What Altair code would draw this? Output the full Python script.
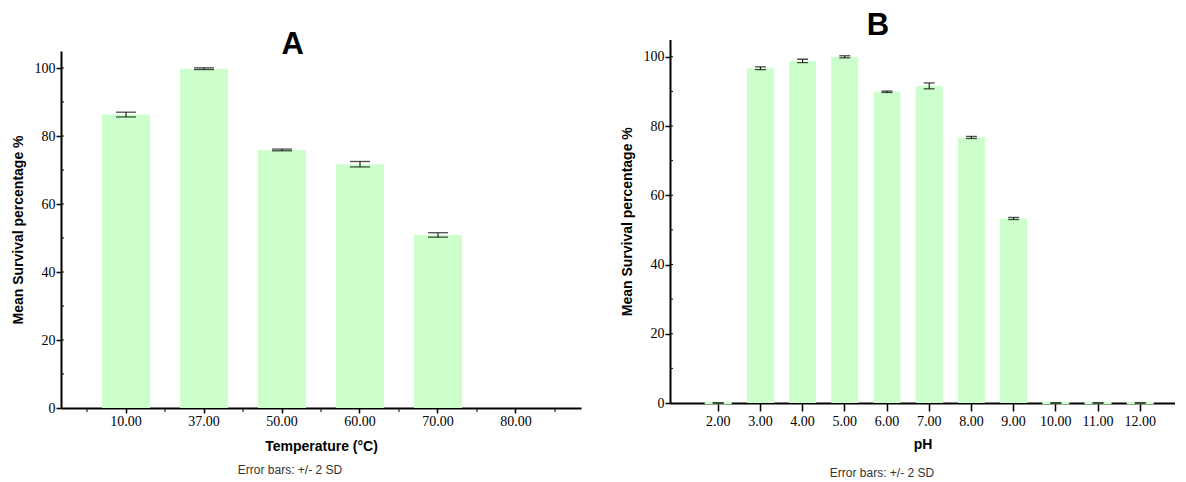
import altair as alt
import pandas as pd

# ---------------- data ----------------
temp_labels = ["10.00", "37.00", "50.00", "60.00", "70.00", "80.00"]
temp_mean = [86.3, 99.8, 75.9, 71.7, 50.9, 0.0]
temp_err = [0.7, 0.25, 0.25, 0.8, 0.65, 0.0]   # +/- 2 SD

ph_labels = ["2.00", "3.00", "4.00", "5.00", "6.00", "7.00", "8.00",
             "9.00", "10.00", "11.00", "12.00"]
ph_mean = [0.0, 96.7, 98.8, 100.0, 89.9, 91.6, 76.7, 53.3, 0.0, 0.0, 0.0]
ph_err = [0.0, 0.4, 0.5, 0.3, 0.2, 0.85, 0.3, 0.3, 0.0, 0.0, 0.0]

panel_titles = ["A", "B"]
x_titles = ["Temperature (°C)", "pH"]
y_title = "Mean Survival percentage %"
footnote = "Error bars: +/- 2 SD"
y_ticks = [0, 20, 40, 60, 80, 100]
y_minor = [10, 20, 30, 40, 50, 60, 70, 80, 90, 100]

BAR = "#ccffcc"


def panel(labels, means, errs, title, xtitle, cfg):
    W, H = cfg["w"], cfg["h"]
    df = pd.DataFrame({
        "cat": labels,
        "mean": means,
        "lo": [m - e for m, e in zip(means, errs)],
        "hi": [m + e for m, e in zip(means, errs)],
    })
    xs = alt.Scale(domain=labels, paddingInner=cfg["pi"], paddingOuter=cfg["po"],
                   align=cfg["align"])
    ys = alt.Scale(domain=[0, 105], nice=False, zero=True, range=cfg["yrange"])
    xaxis = alt.Axis(title=xtitle, labelAngle=0, tickSize=cfg["xtick"],
                     labelPadding=cfg["xlabpad"], titlePadding=cfg["xtitlepad"])
    ymid = (cfg["yrange"][0] + cfg["yrange"][1]) / 2
    yaxis = alt.Axis(title=y_title, values=y_ticks, tickSize=5, labelPadding=1,
                     titleAngle=270, titleBaseline="bottom", titleAlign="center",
                     titleX=-36, titleY=ymid)

    def X(field="cat", **kw):
        return alt.X(f"{field}:N", scale=xs, axis=xaxis, **kw)

    def Y(field):
        return alt.Y(f"{field}:Q", scale=ys, axis=yaxis)

    base = alt.Chart(df)
    layers = []
    spacer = alt.Chart(pd.DataFrame({"s": [0]})).mark_point(
        size=1, opacity=0, filled=True).encode(
        x=alt.value(cfg["spx"]), y=alt.value(cfg["spy"]))
    layers.append(spacer)
    layers.append(base.mark_bar(color=BAR).encode(x=X(), y=Y("mean")))
    if cfg["zero_stroke"]:
        layers.append(base.transform_filter("datum.mean == 0").mark_bar(
            color=BAR, stroke=BAR, strokeWidth=2.5).encode(x=X(), y=Y("mean")))
        errdf = base
    else:
        errdf = base.transform_filter("datum.mean > 0")
    layers.append(errdf.mark_rule(color="black", strokeWidth=1).encode(
        x=X(), y=Y("lo"), y2="hi:Q"))
    layers.append(errdf.mark_tick(color="black", orient="horizontal",
                                  size=cfg["cap"], thickness=1.3).encode(
        x=X(), y=Y("lo")))
    layers.append(errdf.mark_tick(color="black", orient="horizontal",
                                  size=cfg["cap"], thickness=1.3).encode(
        x=X(), y=Y("hi")))
    # minor ticks on y axis (right side of axis line)
    layers.append(alt.Chart(pd.DataFrame({"v": y_minor})).mark_rule(
        color="black", strokeWidth=1).encode(
        y=Y("v"), x=alt.value(0), x2=alt.value(3)))
    if cfg["xminor"]:
        n = len(labels)
        step = W / (n - cfg["pi"] + 2 * cfg["po"])
        half_gap = cfg["pi"] * step / 2
        layers.append(base.mark_rule(color="black", strokeWidth=1,
                                     xOffset=-half_gap).encode(
            x=X(bandPosition=0), y=alt.value(H), y2=alt.value(H + 4)))
        layers.append(base.transform_filter(f"datum.cat == '{labels[-1]}'").mark_rule(
            color="black", strokeWidth=1, xOffset=half_gap).encode(
            x=X(bandPosition=1), y=alt.value(H), y2=alt.value(H + 4)))
    layers.append(alt.Chart(pd.DataFrame({"t": [title]})).mark_text(
        font="Liberation Sans", fontSize=31, fontWeight="bold", color="black",
        align="center", baseline="alphabetic").encode(
        text="t:N", x=alt.value(cfg["tx"]), y=alt.value(cfg["ty"])))
    layers.append(alt.Chart(pd.DataFrame({"t": [footnote]})).mark_text(
        font="Liberation Sans", fontSize=12, color="#333333",
        align="center", baseline="middle").encode(
        text="t:N", x=alt.value(cfg["fx"]), y=alt.value(cfg["fy"])))
    return alt.layer(*layers).properties(width=W, height=H)


cfgA = dict(w=520, h=357, yrange=[357, 0], pi=0.385, po=0.526, align=0.5,
            xtick=5, xlabpad=1, xtitlepad=11,
            cap=20, zero_stroke=False, xminor=True, spx=-52, spy=-42,
            tx=231.7, ty=3, fx=229, fy=418.5)
cfgB = dict(w=505, h=352, yrange=[352, -11.5], pi=0.36, po=0.663, align=0.62,
            xtick=8, xlabpad=3, xtitlepad=9,
            cap=11, zero_stroke=True, xminor=False, spx=-53, spy=-42,
            tx=208, ty=-16, fx=212, fy=422)

pA = panel(temp_labels, temp_mean, temp_err, panel_titles[0], x_titles[0], cfgA)
pB = panel(ph_labels, ph_mean, ph_err, panel_titles[1], x_titles[1], cfgB)

chart = alt.hconcat(pA, pB, spacing=35).properties(padding=0).configure_view(
    stroke=None
).configure_axis(
    grid=False,
    domainColor="black", domainWidth=2,
    tickColor="black", tickWidth=1.5,
    labelFont="Liberation Serif", labelFontSize=14, labelColor="black",
    titleFont="Liberation Sans", titleFontSize=14, titleFontWeight="bold",
    titleColor="black",
)

chart.save("out.html", embed_options={"renderer": "svg", "actions": False})
